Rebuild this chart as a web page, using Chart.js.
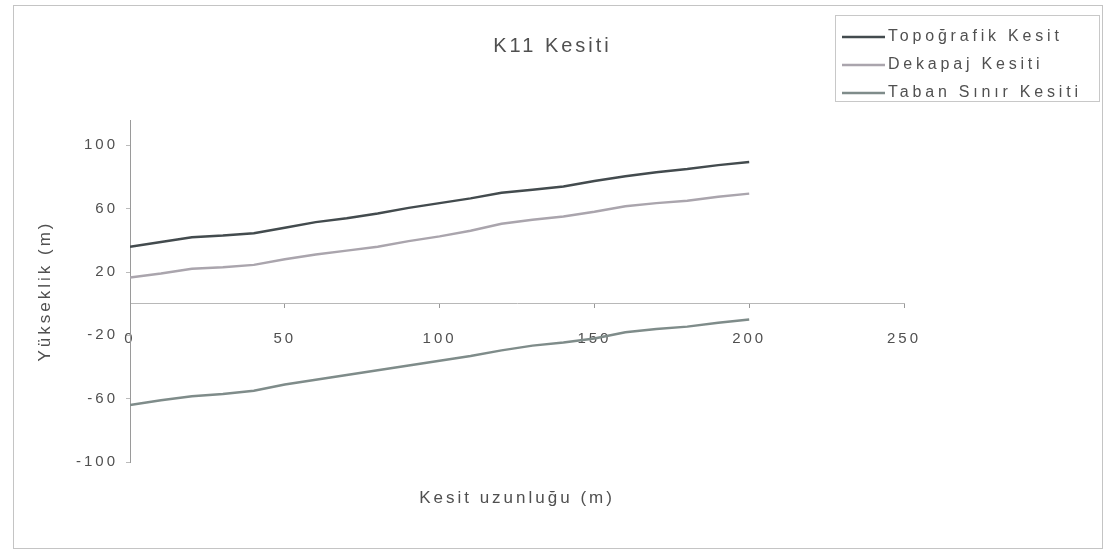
<!DOCTYPE html>
<html>
<head>
<meta charset="utf-8">
<script src="https://cdn.jsdelivr.net/npm/chart.js@4/dist/chart.umd.min.js"></script>
<style>
  html, body { margin: 0; padding: 0; background: #fff; }
  #wrap { position: relative; width: 1105px; height: 551px; }
  #frame { position: absolute; left: 13px; top: 5px; width: 1088px; height: 542px; border: 1px solid #c4c4c4; pointer-events: none; }
</style>
</head>
<body>
<div id="wrap">
  <canvas id="chart" width="1105" height="551"></canvas>
  <div id="frame"></div>
</div>
<script>
// Data
const distances = [0, 10, 20, 30, 40, 50, 60, 70, 80, 90, 100, 110, 120, 130, 140, 150, 160, 170, 180, 190, 200];
const topoValues = [36, 39, 42, 43, 44.5, 48, 51.5, 54, 57, 60.5, 63.5, 66.5, 70, 72, 74, 77.5, 80.5, 83, 85, 87.5, 89.5];
const dekapajValues = [16.5, 19, 22, 23, 24.5, 28, 31, 33.5, 36, 39.5, 42.5, 46, 50.5, 53, 55, 58, 61.5, 63.5, 65, 67.5, 69.5];
const tabanValues = [-64, -61, -58.5, -57, -55, -51, -48, -45, -42, -39, -36, -33, -29.5, -26.5, -24.5, -22, -18, -16, -14.5, -12, -10];
const seriesNames = ['Topoğrafik Kesit', 'Dekapaj Kesiti', 'Taban Sınır Kesiti'];
const yTicks = [-100, -60, -20, 20, 60, 100];

const textColor = '#505050';
const fontFamily = '"Liberation Sans", Arial, sans-serif';

const toPoints = (vals) => distances.map((d, i) => ({ x: d, y: vals[i] }));

// scanned text looks widely spaced
const spacingPlugin = {
    id: 'spacing',
    beforeUpdate(chart) { chart.ctx.letterSpacing = '3px'; },
    beforeDraw(chart) { chart.ctx.letterSpacing = '3px'; }
};

// legend box at top-right, like the Excel one
const boxLegend = {
    id: 'boxLegend',
    afterDraw(chart) {
        const ctx = chart.ctx;
        ctx.save();
        ctx.strokeStyle = '#c8c8c8';
        ctx.lineWidth = 1;
        ctx.strokeRect(835.5, 15.5, 264, 86);
        ctx.font = '16px ' + fontFamily;
        ctx.textBaseline = 'middle';
        ctx.letterSpacing = '3.8px';
        chart.data.datasets.forEach((ds, i) => {
            const y = 37 + i * 28;
            ctx.strokeStyle = ds.borderColor;
            ctx.lineWidth = 2.5;
            ctx.beginPath();
            ctx.moveTo(842, y);
            ctx.lineTo(885, y);
            ctx.stroke();
            ctx.fillStyle = textColor;
            ctx.fillText(ds.label, 888, y);
        });
        ctx.restore();
    }
};

const datasets = [
    { label: seriesNames[0], data: toPoints(topoValues), borderColor: '#434b4e' },
    { label: seriesNames[1], data: toPoints(dekapajValues), borderColor: '#aaa5ad' },
    { label: seriesNames[2], data: toPoints(tabanValues), borderColor: '#7f8c8a' }
].map(ds => Object.assign(ds, { showLine: true, pointRadius: 0, borderWidth: 2.5, tension: 0, fill: false }));

new Chart(document.getElementById('chart'), {
    type: 'scatter',
    data: { datasets },
    plugins: [spacingPlugin, boxLegend],
    options: {
        responsive: false,
        animation: false,
        layout: { padding: { left: 0, right: 0, top: 0, bottom: 39 } },
        plugins: {
            legend: { display: false },
            tooltip: { enabled: false },
            title: {
                display: true,
                text: 'K11 Kesiti',
                color: textColor,
                font: { family: fontFamily, size: 20, weight: 'normal' },
                padding: { top: 34, bottom: 62 }
            }
        },
        scales: {
            x: {
                type: 'linear',
                position: { y: 0 },
                min: 0, max: 250,
                ticks: { stepSize: 50, color: textColor, padding: 22, font: { family: fontFamily, size: 15 } },
                grid: { drawOnChartArea: false, tickLength: 4, color: '#999' },
                border: { color: '#b8b8b8', dash: [2, 2], width: 1 }
            },
            x2: {
                type: 'linear',
                position: 'bottom',
                min: 0, max: 250,
                ticks: { display: false },
                grid: { display: false },
                border: { display: false },
                title: { display: true, text: 'Kesit uzunluğu (m)', color: textColor, font: { family: fontFamily, size: 17 }, padding: { top: 0, bottom: 3 } },
                afterFit(scale) { scale.height = 50; }
            },
            y: {
                type: 'linear',
                min: -100, max: 116,
                afterBuildTicks(scale) { scale.ticks = yTicks.map(v => ({ value: v })); },
                ticks: { color: textColor, padding: 8, font: { family: fontFamily, size: 15 } },
                grid: { drawOnChartArea: false, tickLength: 4, color: '#bbb' },
                border: { color: '#9a9a9a', width: 1 },
                title: { display: true, text: 'Yükseklik (m)', color: textColor, font: { family: fontFamily, size: 17 }, padding: { top: 35, bottom: 0 } },
                afterFit(scale) { scale.width = 130; }
            },
            // empty right axis, only reserves the space where the legend sits
            y2: {
                type: 'linear',
                position: 'right',
                min: -100, max: 116,
                ticks: { display: false },
                grid: { display: false },
                border: { display: false },
                afterFit(scale) { scale.width = 201; }
            }
        }
    }
});
</script>
</body>
</html>
